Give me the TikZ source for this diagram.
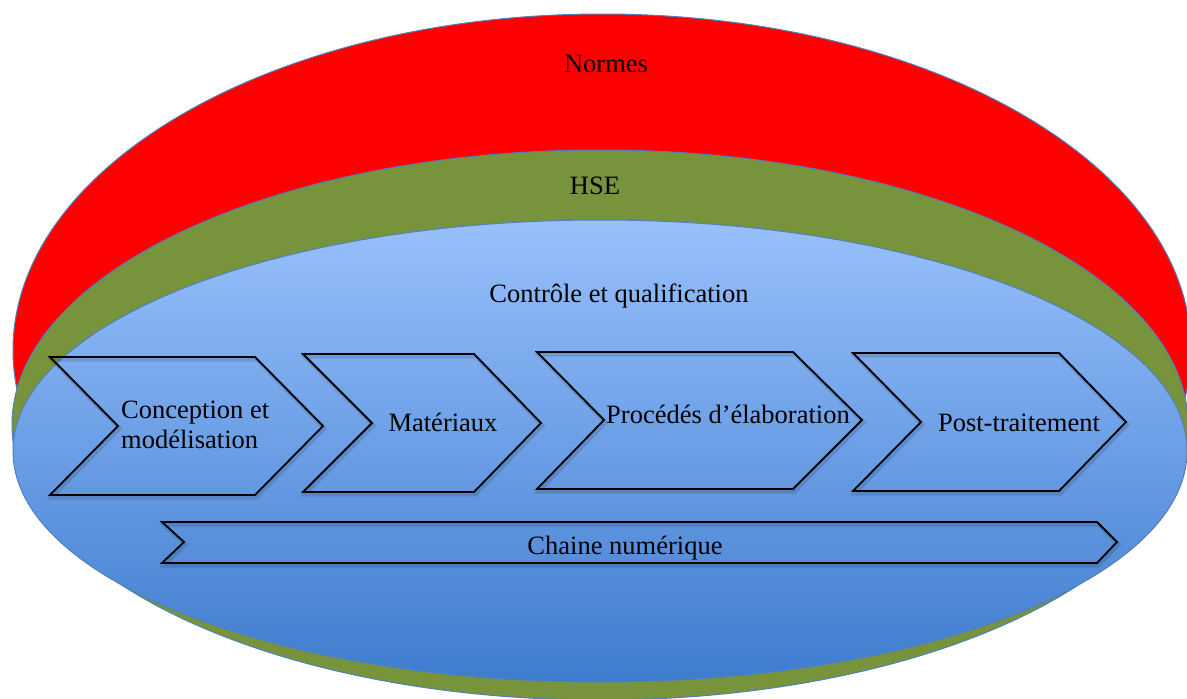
\documentclass[tikz,border=0pt]{standalone}
\usepackage{fontspec}
\setmainfont{Liberation Serif}
\definecolor{rimblue}{RGB}{79,129,189}
\definecolor{hsegreen}{RGB}{119,147,60}
\definecolor{topblue}{RGB}{152,192,252}
\definecolor{botblue}{RGB}{62,124,206}
\tikzset{
  ring/.style={draw=rimblue, line width=1pt},
  chev/.style={draw=black, line width=1.8pt, line join=miter,
    preaction={draw=black, draw opacity=0.12, line width=4pt,
      transform canvas={shift={(1.5,2.5)}}}},
  lbl/.style={inner sep=0pt, font=\fontsize{26.5}{30}\selectfont, text=black}
}
\begin{document}
\begin{tikzpicture}[x=1pt,y=-1pt]
\useasboundingbox (0,0) rectangle (1187,699);
\fill[white] (0,0) rectangle (1187,699);
% ellipses
\path[ring, fill=red] (602,350) ellipse [x radius=589, y radius=336];
\path[ring, fill=hsegreen] (600,425) ellipse [x radius=588, y radius=275];
\path[ring, top color=topblue, bottom color=botblue] (600,451) ellipse [x radius=587, y radius=231];
% ring labels
\node[lbl] (normes) at (606,64) {Normes};
\node[lbl] (hse) at (595,186) {HSE};
\node[lbl] (cq) at (619,296) {Contrôle et qualification};
% chevrons
\draw[chev] (50,357) -- (255,357) -- (323,426) -- (255,495) -- (50,495) -- (118,426) -- cycle;
\draw[chev] (303,354) -- (474,354) -- (541,423) -- (474,492) -- (303,492) -- (372,423) -- cycle;
\draw[chev] (537,352) -- (793,352) -- (862,420) -- (793,489) -- (537,489) -- (604,420) -- cycle;
\draw[chev] (853,353) -- (1059,353) -- (1126,422) -- (1059,491) -- (853,491) -- (921,422) -- cycle;
\draw[chev] (162,522) -- (1097,522) -- (1117,542) -- (1097,563) -- (162,563) -- (184,542) -- cycle;
% chevron labels
\node[lbl, align=left, anchor=west] (conc) at (121,425) {Conception et\\modélisation};
\node[lbl] (mat) at (443,422) {Matériaux};
\node[lbl] (proc) at (728,414) {Procédés d’élaboration};
\node[lbl] (post) at (1019,423) {Post-traitement};
\node[lbl] (chain) at (625,548) {Chaine numérique};
\end{tikzpicture}
\end{document}
